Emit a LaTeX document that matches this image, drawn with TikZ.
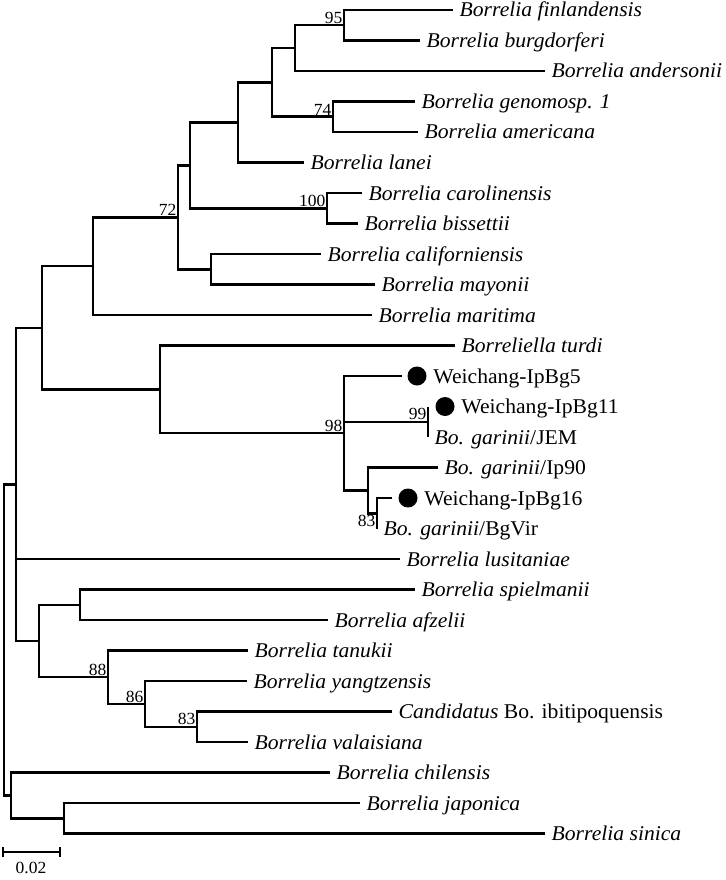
\documentclass[tikz,border=0pt]{standalone}
\usepackage{fontspec}
\setmainfont{Liberation Serif}[FakeStretch=1.03]
\usetikzlibrary{positioning}

\begin{document}
\begin{tikzpicture}[
          x=1pt, y=-1pt,
          branch/.style={line width=2.5pt, line join=miter},
          leaf/.style={anchor=west, inner xsep=6.5pt, inner ysep=0pt, text height=14pt, text depth=0pt, font=\fontsize{21}{24}\selectfont},
          boot/.style={inner sep=1.5pt, font=\fontsize{17}{19}\selectfont},
          dot/.style={circle, fill=black, inner sep=0pt, minimum size=19pt}
        ]
          \useasboundingbox (0,0) rectangle (725,880);

          % leaves
          \node[leaf] (finl) at (453,10) {\textit{Borrelia finlandensis}};
          \node[leaf] (burg) at (420,40.5) {\textit{Borrelia burgdorferi}};
          \node[leaf] (ande) at (545,71) {\textit{Borrelia andersonii}};
          \node[leaf] (geno) at (415,101.5) {\textit{Borrelia genomosp. 1}};
          \node[leaf] (amer) at (418,132) {\textit{Borrelia americana}};
          \node[leaf] (lane) at (304,162.5) {\textit{Borrelia lanei}};
          \node[leaf] (caro) at (362,193) {\textit{Borrelia carolinensis}};
          \node[leaf] (biss) at (358,223.5) {\textit{Borrelia bissettii}};
          \node[leaf] (cali) at (321,254) {\textit{Borrelia californiensis}};
          \node[leaf] (mayo) at (375,284.5) {\textit{Borrelia mayonii}};
          \node[leaf] (mari) at (372,315) {\textit{Borrelia maritima}};
          \node[leaf] (turd) at (455,345.5) {\textit{Borreliella turdi}};
          \node[dot] (d5) at (417,376) {};
          \node[leaf, right=0pt of d5] (wc5) {Weichang-IpBg5};
          \node[dot] (d11) at (445,406.5) {};
          \node[leaf, right=0pt of d11] (wc11) {Weichang-IpBg11};
          \node[leaf] (jem) at (428,437) {\textit{Bo. garinii}/JEM};
          \node[leaf] (ip90) at (438,467.5) {\textit{Bo. garinii}/Ip90};
          \node[dot] (d16) at (408,498) {};
          \node[leaf, right=0pt of d16] (wc16) {Weichang-IpBg16};
          \node[leaf] (bgvir) at (377,528.5) {\textit{Bo. garinii}/BgVir};
          \node[leaf] (lusi) at (400,559) {\textit{Borrelia lusitaniae}};
          \node[leaf] (spie) at (415,589.5) {\textit{Borrelia spielmanii}};
          \node[leaf] (afze) at (328,620) {\textit{Borrelia afzelii}};
          \node[leaf] (tanu) at (248,650.5) {\textit{Borrelia tanukii}};
          \node[leaf] (yang) at (247,681) {\textit{Borrelia yangtzensis}};
          \node[leaf] (cand) at (392,711.5) {\textit{Candidatus} Bo. ibitipoquensis};
          \node[leaf] (vala) at (248,742) {\textit{Borrelia valaisiana}};
          \node[leaf] (chil) at (330,772.5) {\textit{Borrelia chilensis}};
          \node[leaf] (japo) at (360,803) {\textit{Borrelia japonica}};
          \node[leaf] (sini) at (545,833.5) {\textit{Borrelia sinica}};

          % internal nodes
          \coordinate (nS) at (344,25.25);
          \coordinate (nR) at (295,48.1);
          \coordinate (nT) at (333,116.75);
          \coordinate (nQ) at (272,82.4);
          \coordinate (nP) at (238,122.5);
          \coordinate (nO) at (327,208.25);
          \coordinate (nN) at (190,165.4);
          \coordinate (nM) at (211,269.25);
          \coordinate (nL) at (178,217.3);
          \coordinate (nJ) at (93,266.2);
          \coordinate (nV) at (428,421.75);
          \coordinate (nX) at (377,513.25);
          \coordinate (nW) at (368,490.4);
          \coordinate (nU) at (344,433.2);
          \coordinate (nK) at (160,389.3);
          \coordinate (nA) at (42,327.8);
          \coordinate (nH) at (197,726.75);
          \coordinate (nG) at (145,703.9);
          \coordinate (nF) at (108,677.2);
          \coordinate (nE) at (80,604.75);
          \coordinate (nD) at (39,641);
          \coordinate (nB) at (16,484.4);
          \coordinate (nI) at (64,818.25);
          \coordinate (nC) at (11,795.4);
          \coordinate (root) at (4,640);

          % branches
          \draw[branch] (finl.west) -| (nS) |- (burg.west);
          \draw[branch] (nS) -| (nR) |- (ande.west);
          \draw[branch] (geno.west) -| (nT) |- (amer.west);
          \draw[branch] (nR) -| (nQ) |- (nT);
          \draw[branch] (nQ) -| (nP) |- (lane.west);
          \draw[branch] (caro.west) -| (nO) |- (biss.west);
          \draw[branch] (nP) -| (nN) |- (nO);
          \draw[branch] (cali.west) -| (nM) |- (mayo.west);
          \draw[branch] (nN) -| (nL) |- (nM);
          \draw[branch] (nL) -| (nJ) |- (mari.west);
          \draw[branch] (nV |- d11) -- (nV |- jem.west);
          \draw[branch] (nU |- nV) -- (nV);
          \draw[branch, shorten >=6pt] (nX) |- (d16);
          \draw[branch] (nX) |- (bgvir.west);
          \draw[branch] (ip90.west) -| (nW) |- (nX);
          \draw[branch, shorten >=5pt] (nU) |- (d5);
          \draw[branch] (nU) |- (nW);
          \draw[branch] (turd.west) -| (nK) |- (nU);
          \draw[branch] (nJ) -| (nA) |- (nK);
          \draw[branch] (cand.west) -| (nH) |- (vala.west);
          \draw[branch] (yang.west) -| (nG) |- (nH);
          \draw[branch] (tanu.west) -| (nF) |- (nG);
          \draw[branch] (spie.west) -| (nE) |- (afze.west);
          \draw[branch] (nE) -| (nD) |- (nF);
          \draw[branch] (nA) -| (nB) |- (nD);
          \draw[branch] (nB |- lusi.west) -- (lusi.west);
          \draw[branch] (japo.west) -| (nI) |- (sini.west);
          \draw[branch] (chil.west) -| (nC) |- (nI);
          \draw[branch] (nB) -| (root) |- (nC);

          % bootstrap values
          \node[boot, anchor=south east] (b95) at (nS) {95};
          \node[boot, anchor=south east] (b74) at (nT) {74};
          \node[boot, anchor=south east] (b100) at (nO) {100};
          \node[boot, anchor=south east] (b72) at (nL) {72};
          \node[boot, anchor=south east] (b98) at (nU) {98};
          \node[boot, anchor=south east] (b99) at (nV) {99};
          \node[boot, anchor=north east] (b83a) at (nX) {83};
          \node[boot, anchor=south east] (b88) at (nF) {88};
          \node[boot, anchor=south east] (b86) at (nG) {86};
          \node[boot, anchor=south east] (b83b) at (nH) {83};

          % scale bar
          \coordinate (sbL) at (3,852);
          \coordinate (sbR) at (60,852);
          \draw[branch] (sbL) -- (sbR);
          \draw[branch] ([yshift=-5pt]sbL) -- ([yshift=5pt]sbL);
          \draw[branch] ([yshift=-5pt]sbR) -- ([yshift=5pt]sbR);
          \node[boot, anchor=north] (sblab) at (31,860) {0.02};
        \end{tikzpicture}
\end{document}
